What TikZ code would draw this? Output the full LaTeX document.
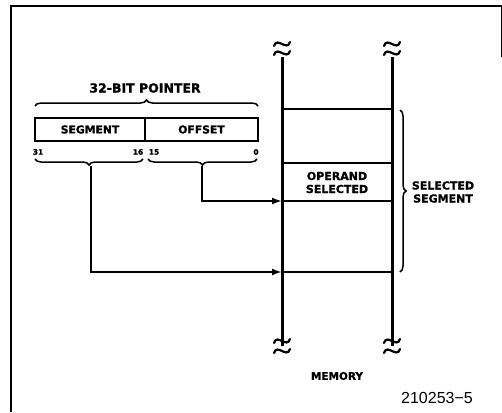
\documentclass[tikz,border=0pt]{standalone}
\usepackage{fontspec}
\setmainfont{DejaVu Sans}
\newfontfamily\hv[FakeBold=1.2]{DejaVu Sans Bold}
\newfontfamily\numfont{Liberation Sans}
\usetikzlibrary{arrows.meta,decorations.pathreplacing}
\begin{document}
\begin{tikzpicture}[x=1pt,y=-1pt,
  lbl/.style={font=\hv\fontsize{11}{13}\selectfont, align=center, inner sep=0pt},
  bitlbl/.style={font=\hv\fontsize{7.5}{8}\selectfont, inner sep=0pt},
  field/.style={draw, line width=2.2pt, minimum height=23pt, inner sep=0pt, outer sep=0pt,
                font=\hv\fontsize{10.8}{12}\selectfont},
  memline/.style={line width=3pt},
  cell/.style={line width=2.5pt},
  conn/.style={line width=1.8pt, -{Latex[length=10pt,width=7pt]}},
  brc/.style={line width=1.5pt, decorate, decoration={brace, amplitude=6pt}},
  squig/.style={line width=2.2pt, line cap=round}]
\useasboundingbox (0,0) rectangle (502,412);
% frame
\draw[line width=1.4pt] (11,412) -- (11,6) -- (501.5,6) -- (501.5,57);

% pointer
\node[lbl, font=\hv\fontsize{12.5}{14}\selectfont] (title) at (145,88) {32-BIT POINTER};
\draw[brc] (35,106) -- (258,106);
\node[field, minimum width=110pt] (seg) at (90,129.5) {SEGMENT};
\node[field, minimum width=113pt] (off) at (201.5,129.5) {OFFSET};
\node[bitlbl] (b31) at (38,152) {31};
\node[bitlbl] (b16) at (138,152) {16};
\node[bitlbl] (b15) at (154,152) {15};
\node[bitlbl] (b0) at (256,152) {0};
\draw[brc] (143,159) -- (35,159);
\draw[brc] (257,159) -- (148,159);
\coordinate (segtip) at (91,166);
\coordinate (offtip) at (202,166);

% memory
\coordinate (mlt) at (282,57);
\coordinate (mlb) at (282,346);
\coordinate (mrt) at (392,57);
\coordinate (mrb) at (392,346);
\draw[memline] (mlt) -- (mlb);
\draw[memline] (mrt) -- (mrb);
\foreach \x in {282,392} {
  \foreach \y in {44,53,341,351} {
    \draw[squig] (\x-8,\y+2) .. controls (\x-5,\y-8) and (\x+5,\y+8) .. (\x+8,\y-2);
  }
}
\coordinate (h1l) at (282,109); \coordinate (h1r) at (392,109);
\coordinate (h2l) at (282,163); \coordinate (h2r) at (392,163);
\coordinate (h3l) at (282,201); \coordinate (h3r) at (392,201);
\coordinate (h4l) at (282,272); \coordinate (h4r) at (392,272);
\draw[cell] (h1l) -- (h1r);
\draw[cell] (h2l) -- (h2r);
\draw[cell] (h3l) -- (h3r);
\draw[cell] (h4l) -- (h4r);
\node[lbl] (opsel) at (337,182.5) {OPERAND\\SELECTED};

% connectors
\draw[conn] (offtip) |- (h3l);
\draw[conn] (segtip) |- (h4l);

% right brace
\draw[brc] (400,110) -- (400,272);
\node[lbl] (selseg) at (443,192) {SELECTED\\SEGMENT};

\node[lbl, font=\hv\fontsize{10.5}{12}\selectfont] (mem) at (337,376) {MEMORY};
\node[inner sep=0pt, font=\numfont\fontsize{16}{18}\selectfont] (fig) at (437,398) {210253−5};
\end{tikzpicture}
\end{document}
